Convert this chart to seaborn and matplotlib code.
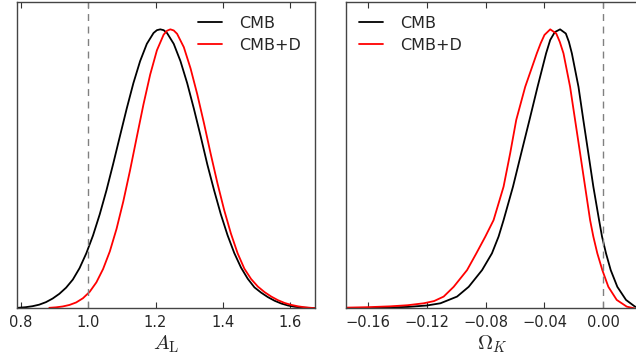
import matplotlib
matplotlib.use("Agg")
import matplotlib.pyplot as plt
import seaborn as sns

# ---- data: left panel (A_L) ----
al_cmb_x = [0.774, 0.794, 0.814, 0.834, 0.854, 0.874, 0.894, 0.914, 0.934, 0.954, 0.974, 0.994,
            1.014, 1.034, 1.054, 1.074, 1.094, 1.114, 1.134, 1.154, 1.174, 1.194, 1.204, 1.214,
            1.224, 1.234, 1.254, 1.274, 1.294, 1.314, 1.334, 1.354, 1.374, 1.394, 1.414, 1.434,
            1.454, 1.474, 1.494, 1.514, 1.534, 1.554, 1.574, 1.594, 1.614, 1.634, 1.654, 1.674]
al_cmb_y = [0.001, 0.002, 0.004, 0.0075, 0.013, 0.022, 0.035, 0.052, 0.074, 0.103, 0.144, 0.197,
            0.261, 0.337, 0.423, 0.518, 0.617, 0.715, 0.807, 0.886, 0.948, 0.987, 0.997, 1.0,
            0.997, 0.987, 0.948, 0.886, 0.807, 0.715, 0.617, 0.515, 0.423, 0.337, 0.262, 0.198,
            0.146, 0.106, 0.075, 0.056, 0.040, 0.027, 0.017, 0.010, 0.0055, 0.003, 0.0015, 0.0007]

al_cmbd_x = [0.884, 0.904, 0.924, 0.944, 0.964, 0.984, 1.004, 1.024, 1.044, 1.064, 1.084, 1.104,
             1.124, 1.144, 1.164, 1.184, 1.204, 1.224, 1.234, 1.244,
             1.254, 1.264, 1.284, 1.304, 1.324, 1.344, 1.364, 1.384, 1.404, 1.424, 1.444, 1.464,
             1.484, 1.504, 1.524, 1.544, 1.564, 1.584, 1.604, 1.624, 1.644, 1.664, 1.674]
al_cmbd_y = [0.0017, 0.0035, 0.0066, 0.012, 0.021, 0.036, 0.059, 0.093, 0.141, 0.204, 0.285, 0.383,
             0.494, 0.613, 0.731, 0.838, 0.925, 0.981, 0.995, 1.0,
             0.996, 0.984, 0.936, 0.860, 0.767, 0.663, 0.553, 0.448, 0.352, 0.268, 0.197, 0.142,
             0.105, 0.078, 0.058, 0.042, 0.029, 0.019, 0.012, 0.007, 0.0035, 0.0015, 0.001]

# ---- data: right panel (Omega_K) ----
ok_cmb_x = [-0.178, -0.16, -0.145, -0.133, -0.12, -0.1107, -0.0994, -0.0915, -0.0824, -0.0757,
            -0.0712, -0.0678, -0.0614, -0.0558, -0.0502, -0.0447, -0.0389, -0.0361, -0.0330,
            -0.0294, -0.0255, -0.0234, -0.0214, -0.0169, -0.0136, -0.0102, -0.0068, -0.0029,
            -0.0009, 0.0018, 0.0050, 0.0095, 0.0154, 0.0215, 0.026]
ok_cmb_y = [0.0005, 0.001, 0.003, 0.005, 0.010, 0.018, 0.042, 0.077, 0.137, 0.197,
            0.257, 0.316, 0.436, 0.556, 0.675, 0.794, 0.914, 0.962, 0.99,
            1.0, 0.985, 0.955, 0.914, 0.794, 0.675, 0.556, 0.436, 0.316,
            0.257, 0.197, 0.137, 0.077, 0.030, 0.006, 0.0]

ok_cmbd_x = [-0.178, -0.16, -0.145, -0.133, -0.122, -0.115, -0.1085, -0.1017, -0.0926, -0.0863,
             -0.0802, -0.0746, -0.0678, -0.0633, -0.0592, -0.0531, -0.0452, -0.0426, -0.0400,
             -0.0361, -0.0320, -0.0296, -0.0271, -0.0226, -0.0192, -0.0158, -0.0124, -0.0090,
             -0.0068, -0.0041, -0.0007, 0.0034, 0.0091, 0.0159, 0.021]
ok_cmbd_y = [0.002, 0.004, 0.007, 0.011, 0.018, 0.026, 0.042, 0.077, 0.137, 0.197,
             0.257, 0.316, 0.436, 0.556, 0.675, 0.794, 0.914, 0.95, 0.98,
             1.0, 0.985, 0.955, 0.914, 0.794, 0.675, 0.556, 0.436, 0.316,
             0.257, 0.197, 0.137, 0.077, 0.030, 0.006, 0.0]

al_ticks = [0.8, 1.0, 1.2, 1.4, 1.6]
ok_ticks = [-0.16, -0.12, -0.08, -0.04, 0.00]
labels = ["CMB", "CMB+D"]
colors = ["black", "red"]

sns.set_style("ticks")
plt.rcParams["font.family"] = ["DejaVu Sans"]
plt.rcParams["mathtext.fontset"] = "cm"

W, H = 636, 363
fig = plt.figure(figsize=(W / 100, H / 100), dpi=100)
top = 1 - 2 / H
bot = 1 - 308.3 / H
ax1 = fig.add_axes([17 / W, bot, (315 - 17) / W, top - bot])
ax2 = fig.add_axes([345.5 / W, bot, (640 - 345.5) / W, top - bot])

sns.lineplot(x=al_cmb_x, y=al_cmb_y, color=colors[0], lw=1.3, label=labels[0], ax=ax1)
sns.lineplot(x=al_cmbd_x, y=al_cmbd_y, color=colors[1], lw=1.3, label=labels[1], ax=ax1)
sns.lineplot(x=ok_cmb_x, y=ok_cmb_y, color=colors[0], lw=1.3, label=labels[0], ax=ax2)
sns.lineplot(x=ok_cmbd_x, y=ok_cmbd_y, color=colors[1], lw=1.3, label=labels[1], ax=ax2)

ax1.axvline(1.0, color="gray", ls=(0, (5, 4)), lw=1.0)
ax2.axvline(0.0, color="gray", ls=(0, (5, 4)), lw=1.0)

ax1.set_xlim(0.788, 1.674)
ax2.set_xlim(-0.1752, 0.0249)
for ax in (ax1, ax2):
    ax.set_ylim(0, 1.098)
    ax.set_yticks([])
    ax.tick_params(axis="x", direction="in", top=True, bottom=True, length=4,
                   width=0.8, labelsize=10.5, color="#333333", pad=5)
    for s in ax.spines.values():
        s.set_color("#444444")
        s.set_linewidth(1.0)
    ax.set_ylabel("")

ax1.set_xticks(al_ticks)
ax1.set_xticklabels([f"{t:.1f}" for t in al_ticks])
ax2.set_xticks(ok_ticks)
ax2.set_xticklabels([f"{t:.2f}".replace("-", "\u2212") for t in ok_ticks])

ax1.set_xlabel(r"$A_{\rm L}$", fontsize=15, labelpad=2)
ax2.set_xlabel(r"$\Omega_K$", fontsize=15, labelpad=2)

leg_kw = dict(frameon=False, fontsize=11.5, handlelength=1.5,
              borderaxespad=0.45, handletextpad=1.1, labelspacing=0.45)
ax1.legend(loc="upper right", **leg_kw)
ax2.legend(loc="upper left", **leg_kw)

fig.savefig("out.png", dpi=100)
